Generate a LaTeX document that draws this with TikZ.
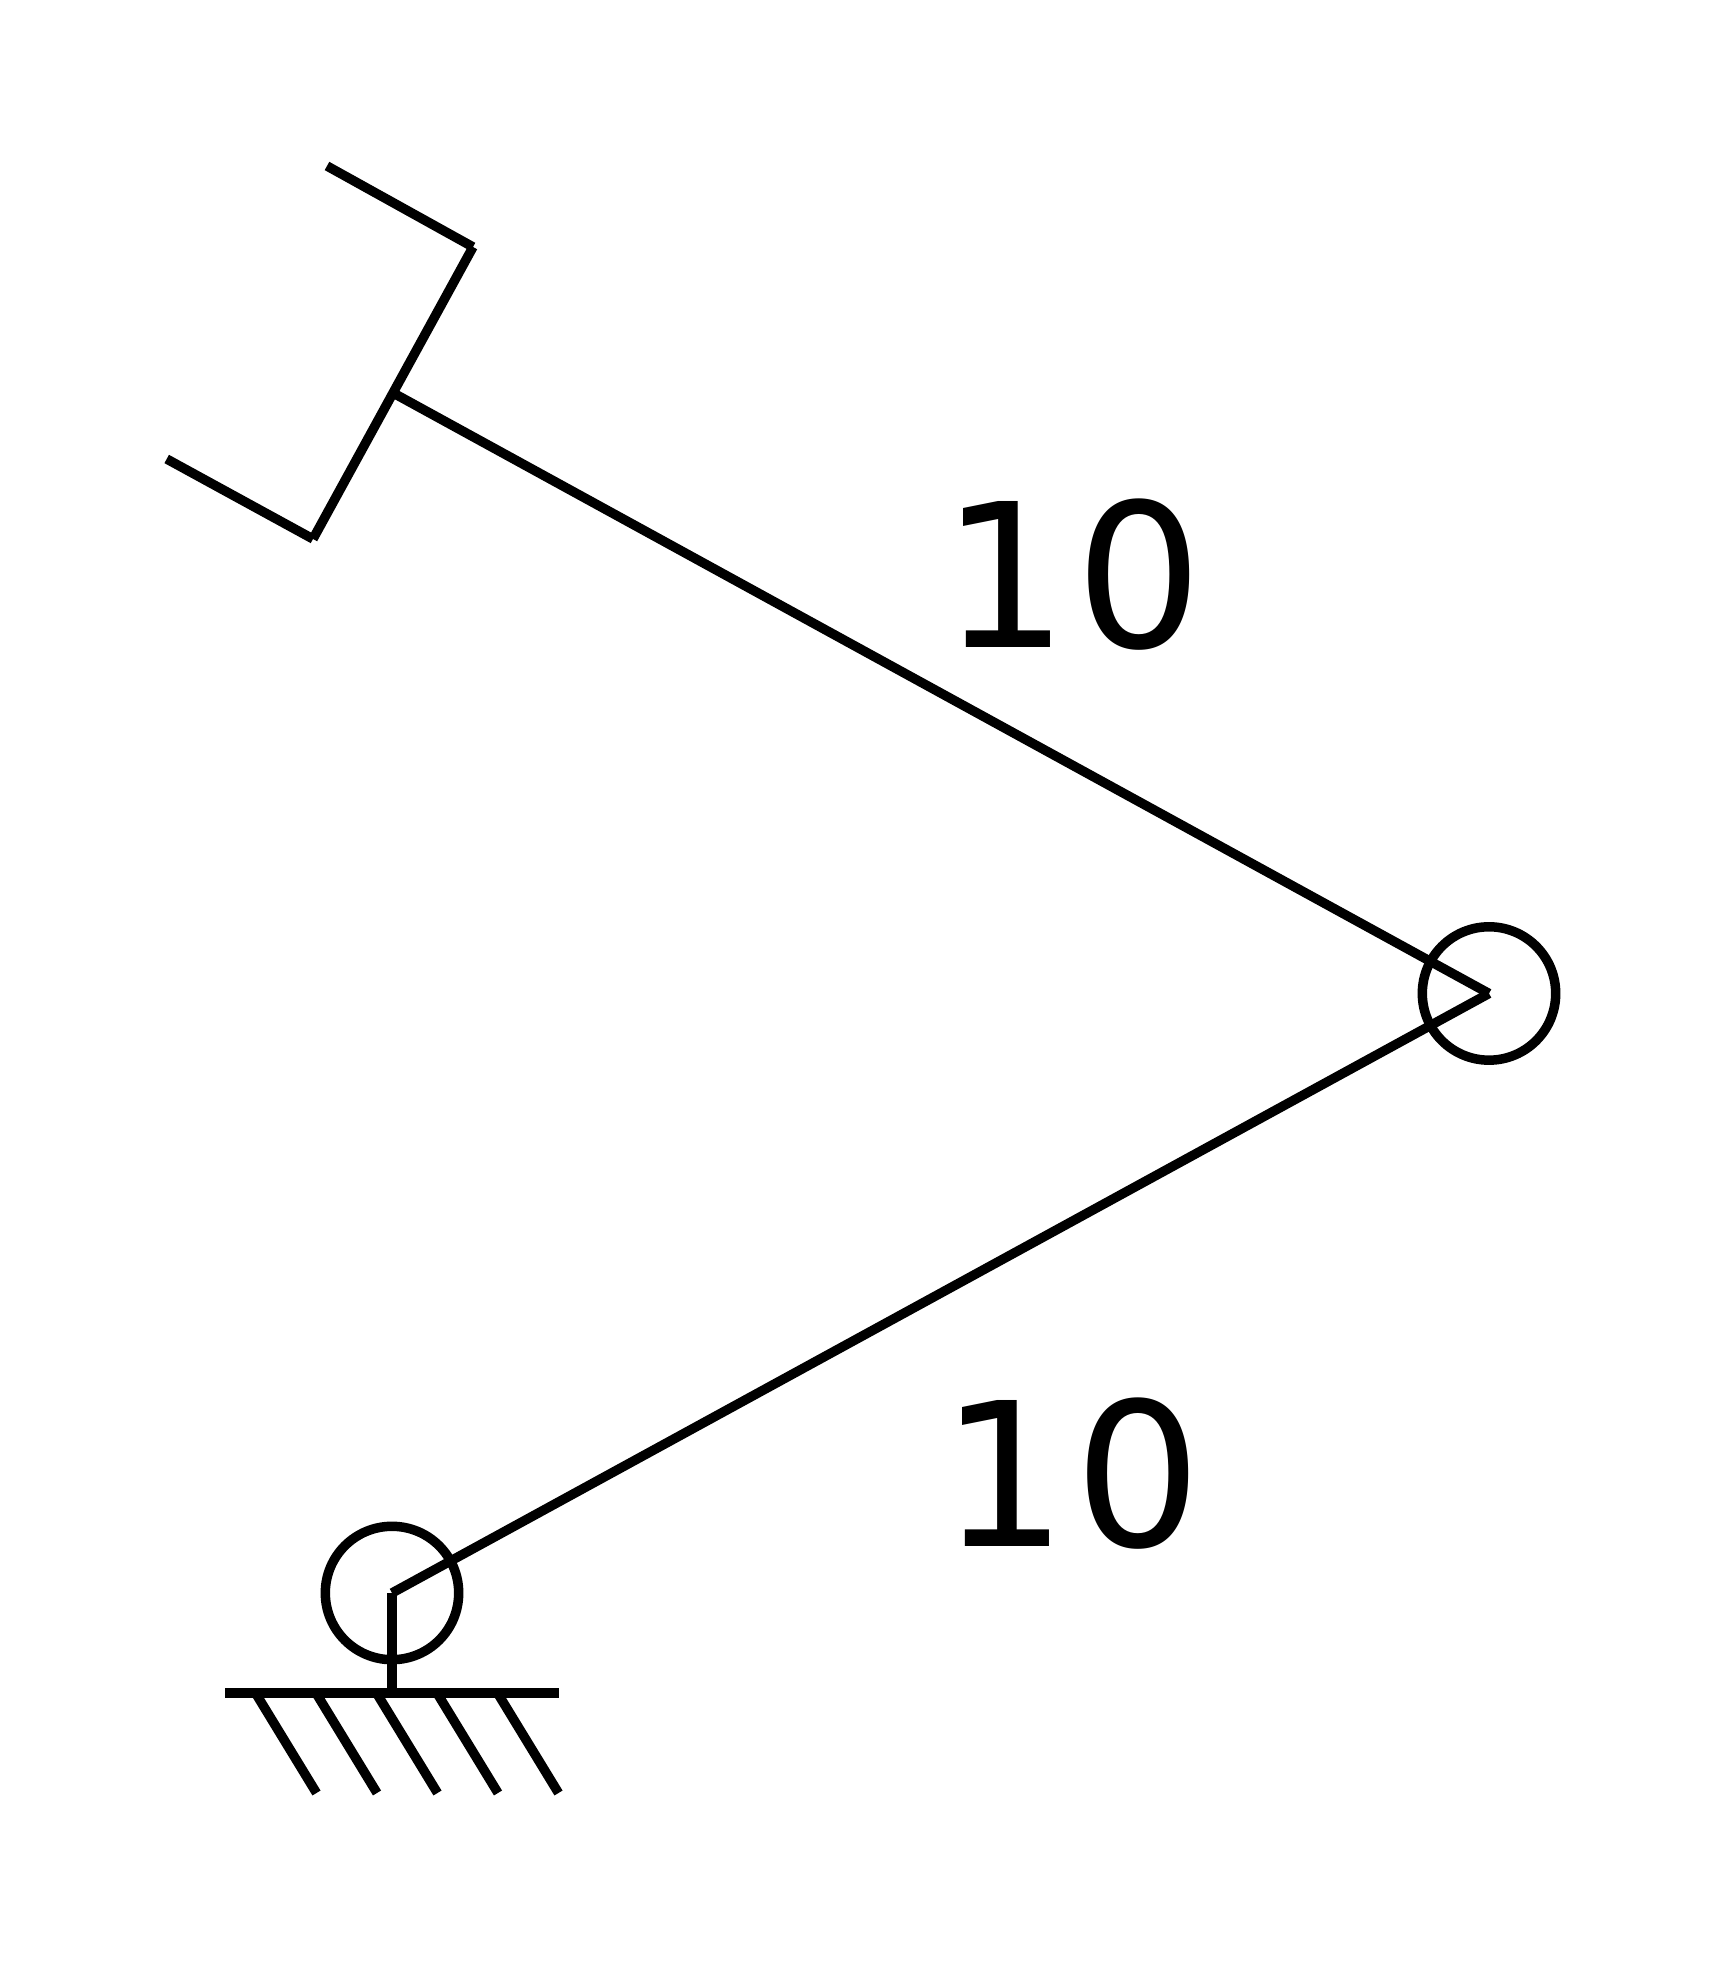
\documentclass[tikz,border=0pt]{standalone}
\usepackage{fontspec}
\setmainfont{DejaVu Sans}
\usetikzlibrary{positioning}

\tikzset{
  member/.style={line width=2.7pt},
  hinge/.style={circle,draw,line width=2.7pt,inner sep=0pt,outer sep=0pt,minimum size=1.334cm},
  lengthlabel/.style={inner sep=0pt,font=\fontsize{57}{60}\selectfont}
}

\begin{document}
\begin{tikzpicture}
\useasboundingbox (0,0) rectangle (17.16,19.66);

% Joints
\node[hinge] (base) at (3.92,3.73) {};
\node[hinge] (elbow) at (14.89,9.725) {};
\coordinate (tip) at (3.95,15.72);
\coordinate (foot) at (3.92,2.73);

% Arms
\draw[member] (base.center) -- (elbow.center);
\draw[member] (elbow.center) -- (tip);
\draw[member] (base.center) -- (foot);

% End bracket
\coordinate (bartop) at (4.73,17.19);
\coordinate (barbot) at (3.13,14.27);
\coordinate (ticktop) at (3.27,18.0);
\coordinate (tickbot) at (1.667,15.07);
\draw[member] (bartop) -- (barbot);
\draw[member] (ticktop) -- (bartop);
\draw[member] (tickbot) -- (barbot);

% Ground
\coordinate (groundl) at (2.25,2.73);
\coordinate (groundr) at (5.59,2.73);
\draw[member] (groundl) -- (groundr);
\foreach \i in {0,...,4} {
  \coordinate (hatchs\i) at (2.555+0.605*\i,2.73);
  \coordinate (hatche\i) at (3.165+0.605*\i,1.73);
  \draw[member] (hatchs\i) -- (hatche\i);
}

% Lengths
\node[lengthlabel] (upperlen) at (10.725,13.91) {1\kern1.9pt 0};
\node[lengthlabel] (lowerlen) at (10.715,4.92) {1\kern1.9pt 0};
\end{tikzpicture}
\end{document}
